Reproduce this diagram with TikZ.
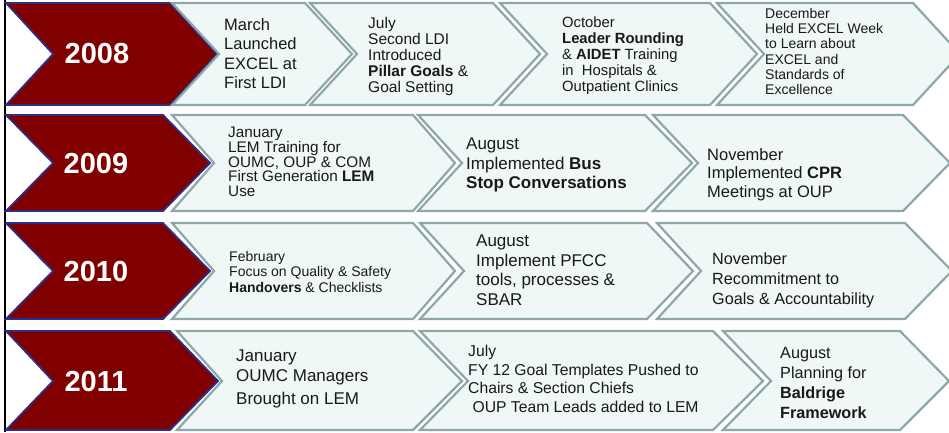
\documentclass[tikz,border=0pt]{standalone}
\usepackage{fontspec}
\setmainfont{Liberation Sans}
\usepackage{tikz}
\usetikzlibrary{%
  arrows.meta,%
  calc,%
}

\definecolor{yearred}{HTML}{800000}
\definecolor{yearedge}{HTML}{2B2F8C}
\definecolor{stepfill}{HTML}{EFF7F7}
\definecolor{stepedge}{HTML}{8EA8A8}

\begin{document}
\begin{tikzpicture}[x=1pt, y=-1pt,
    yearchev/.style={fill=yearred, draw=yearedge, line width=1.8pt, line join=miter},
    stepchev/.style={fill=stepfill, draw=stepedge, line width=2.2pt, line join=miter},
    year/.style={text=white, font=\fontsize{29}{30}\selectfont\bfseries},
    event/.style={anchor=north west, inner sep=0pt, align=left, text=black!90},
  ]

      \useasboundingbox (0, 0) rectangle (949, 432);
      \clip (0, 0) rectangle (949, 432);
      \fill [white] (0, 0) rectangle (949, 432);

      \draw [line width=2pt] (5, 0) -- (5, 432);

      % 2008
      \draw [yearchev] (6, 3) -- (170, 3) -- (217, 54) -- (170, 105) -- (6, 105) -- (53, 54) -- cycle;
      \node (y2008) [year] at (97, 54) {2008};

      \draw [stepchev] (172, 3) -- (305, 3) -- (352, 54) -- (305, 105) -- (172, 105) -- (219, 54) -- cycle;
      \node (mar08) [event, font=\fontsize{16.5}{19.5}\selectfont] at (224, 18)
        {March \\ Launched \\ EXCEL at \\ First LDI};

      \draw [stepchev] (310, 3) -- (493, 3) -- (540, 54) -- (493, 105) -- (310, 105) -- (357, 54) -- cycle;
      \node (jul08) [event, font=\fontsize{15.5}{16}\selectfont] at (368, 17)
        {July \\ Second LDI \\ Introduced \\ \textbf{Pillar Goals} \& \\ Goal Setting};

      \draw [stepchev] (500, 3) -- (710, 3) -- (757, 54) -- (710, 105) -- (500, 105) -- (547, 54) -- cycle;
      \node (oct08) [event, font=\fontsize{14.8}{16}\selectfont] at (562, 17)
        {October \\ \textbf{Leader Rounding} \\ \& \textbf{AIDET} Training \\ in\ \ Hospitals \& \\ Outpatient Clinics};

      \draw [stepchev] (717, 3) -- (913, 3) -- (960, 54) -- (913, 105) -- (717, 105) -- (764, 54) -- cycle;
      \node (dec08) [event, font=\fontsize{14}{15.3}\selectfont] at (765, 8)
        {December \\ Held EXCEL Week \\ to Learn about \\ EXCEL and \\ Standards of \\ Excellence};

      % 2009
      \draw [yearchev] (6, 115) -- (163, 115) -- (210, 163) -- (163, 211) -- (6, 211) -- (53, 163) -- cycle;
      \node (y2009) [year] at (96, 164) {2009};

      \draw [stepchev] (172, 115) -- (413, 115) -- (455, 163) -- (413, 211) -- (172, 211) -- (214, 163) -- cycle;
      \node (jan09) [event, font=\fontsize{15.3}{14.7}\selectfont] at (228, 127)
        {January \\ LEM Training for \\ OUMC, OUP \& COM \\ First Generation \textbf{LEM} \\ Use};

      \draw [stepchev] (418, 115) -- (645, 115) -- (692, 163) -- (645, 211) -- (418, 211) -- (462, 163) -- cycle;
      \node (aug09) [event, font=\fontsize{17}{19.3}\selectfont] at (466, 138)
        {August \\ Implemented \textbf{Bus} \\ \textbf{Stop Conversations}};

      \draw [stepchev] (653, 115) -- (903, 115) -- (950, 163) -- (903, 211) -- (653, 211) -- (698, 163) -- cycle;
      \node (nov09) [event, font=\fontsize{16.5}{18.5}\selectfont] at (707, 148)
        {November \\ Implemented \textbf{CPR} \\ Meetings at OUP};

      % 2010
      \draw [yearchev] (6, 223) -- (163, 223) -- (210, 271) -- (163, 319) -- (6, 319) -- (53, 271) -- cycle;
      \node (y2010) [year] at (96, 272) {2010};

      \draw [stepchev] (172, 223) -- (413, 223) -- (455, 271) -- (413, 319) -- (172, 319) -- (214, 271) -- cycle;
      \node (feb10) [event, font=\fontsize{14}{15.5}\selectfont] at (229, 251)
        {February \\ Focus on Quality \& Safety \\ \textbf{Handovers} \& Checklists};

      \draw [stepchev] (420, 223) -- (647, 223) -- (693, 271) -- (647, 319) -- (420, 319) -- (464, 271) -- cycle;
      \node (aug10) [event, font=\fontsize{17}{19.5}\selectfont] at (476, 235)
        {August \\ Implement PFCC \\ tools, processes \& \\ SBAR};

      \draw [stepchev] (657, 223) -- (905, 223) -- (952, 271) -- (905, 319) -- (657, 319) -- (701, 271) -- cycle;
      \node (nov10) [event, font=\fontsize{16.2}{20}\selectfont] at (712, 253)
        {November \\ Recommitment to \\ Goals \& Accountability};

      % 2011
      \draw [yearchev] (6, 331) -- (170, 331) -- (218, 381) -- (170, 430) -- (6, 430) -- (53, 381) -- cycle;
      \node (y2011) [year] at (96, 382) {2011};

      \draw [stepchev] (177, 331) -- (413, 331) -- (462, 381) -- (413, 430) -- (177, 430) -- (222, 381) -- cycle;
      \node (jan11) [event, font=\fontsize{17}{20}\selectfont] at (236, 350)
        {January \\ OUMC Managers \\[3pt] Brought on LEM};

      \draw [stepchev] (420, 331) -- (713, 331) -- (763, 381) -- (713, 430) -- (420, 430) -- (468, 381) -- cycle;
      \node (jul11) [event, font=\fontsize{15.7}{18.5}\selectfont] at (468, 345)
        {July \\ FY 12 Goal Templates Pushed to \\ Chairs \& Section Chiefs \\ \ OUP Team Leads added to LEM};

      \draw [stepchev] (723, 331) -- (900, 331) -- (949, 381) -- (900, 430) -- (723, 430) -- (771, 381) -- cycle;
      \node (aug11) [event, font=\fontsize{16.2}{20}\selectfont] at (780, 347)
        {August \\ Planning for \\ \textbf{Baldrige} \\ \textbf{Framework}};

    \end{tikzpicture}
\end{document}
